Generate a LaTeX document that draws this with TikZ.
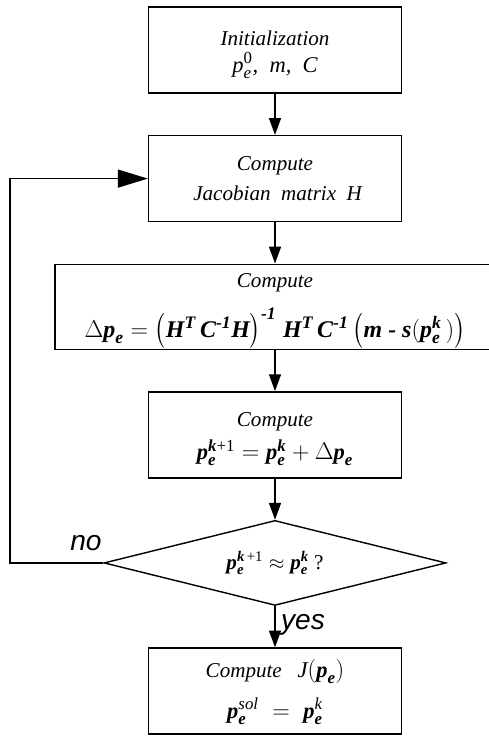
\documentclass[tikz,border=0pt]{standalone}
\usepackage{amsmath}
\usepackage{graphicx}
\usepackage{fontspec}
\setmainfont{Liberation Serif}
\newfontfamily\answerfont{Liberation Sans}
\usetikzlibrary{arrows.meta,positioning,shapes.geometric}
\DeclareMathSizes{17}{17}{12.5}{10}
\DeclareMathSizes{16}{16}{12}{9}
\newcommand{\bv}[1]{\text{\bfseries\itshape #1}}
\newcommand{\eqsize}{\fontsize{16}{22}\selectfont}
\newcommand{\bigeqsize}{\fontsize{17}{22}\selectfont}
\newcommand{\lpar}{\mathopen{\scalebox{1}[1.2]{$\bigl($}}}
\newcommand{\rpar}{\mathclose{\scalebox{1}[1.2]{$\bigr)$}}}
\tikzset{
  stepbox/.style={draw,line width=1pt,align=center,minimum width=63.25mm,minimum height=21.5mm,inner sep=1pt,font=\fontsize{15}{22}\selectfont\itshape,fill=white},
  decision/.style={diamond,draw,line width=1pt,aspect=4,minimum width=85.5mm,minimum height=21.25mm,inner sep=0pt,font=\fontsize{15}{22}\selectfont\itshape},
  flowarrow/.style={-{Triangle[length=4.2mm,width=3mm]},line width=1pt},
  backarrow/.style={-{Triangle[length=7.5mm,width=4.5mm]},line width=1pt},
  answer/.style={font=\answerfont\itshape\fontsize{20}{22}\selectfont,inner sep=1pt}
}

\begin{document}
\begin{tikzpicture}[node distance=10.3mm]
\useasboundingbox (0,0) rectangle (12.2,-18.4);
\node[stepbox] (a) at (6.875,-1.25) {\rule{0pt}{17pt}Initialization\\[-3pt]\eqsize$\text{p}^{\text{\upshape 0}}_{\text{e}}$,\ \ $\text{m}$,\ \ $\text{C}$};
\node[stepbox,below=of a] (b) {Compute\\\ Jacobian\ \ matrix\ \ H};
\node[stepbox,below=of b,minimum width=110mm,minimum height=21.25mm,inner sep=0pt] (c) {\rule{0pt}{16pt}Compute\\[10pt]\bigeqsize$\Delta\bv{p}_{\bv{e}} = \lpar\bv{H}^{\bv{T}}\,\bv{C}^{\bv{-1}}\bv{H}\rpar^{\bv{-1}}\;\bv{H}^{\bv{T}}\,\bv{C}^{\bv{-1}}\,\lpar\bv{m}\ \bv{-}\ \bv{s}(\bv{p}^{\bv{k}}_{\bv{e}}\,)\rpar$};
\node[stepbox,below=of c] (d) {\rule{0pt}{16pt}Compute\\[2pt]\eqsize$\bv{p}^{\bv{k}\text{\upshape +1}}_{\bv{e}} = \bv{p}^{\bv{k}}_{\bv{e}} + \Delta\bv{p}_{\bv{e}}$};
\node[decision,below=of d] (e) {\\[-2pt]$\bv{p}^{\bv{k}\text{\upshape\,+1}}_{\bv{e}} \approx \bv{p}^{\bv{k}}_{\bv{e}}$ \upshape ?};
\node[stepbox,below=of e] (f) {\rule{0pt}{14pt}Compute\ \ \ \eqsize$\text{J}(\bv{p}_{\bv{e}})$\\[7pt]\eqsize$\bv{p}^{\text{sol}}_{\bv{e}} \;=\; \bv{p}^{\text{k}}_{\bv{e}}$};
\coordinate (loop) at (0.25,0);
\draw[flowarrow] (a) -- (b);
\draw[flowarrow] (b) -- (c);
\draw[flowarrow] (c) -- (d);
\draw[flowarrow] (d) -- (e);
\draw[flowarrow] (e) -- node[answer,right=1mm,pos=0.45] {yes} (f);
\draw[backarrow] (e.west) -- (e.west -| loop) -- (b.west -| loop) -- (b.west);
\node[answer,above left=2.5mm and 0mm of e.west] (no) {no};
\end{tikzpicture}
\end{document}
